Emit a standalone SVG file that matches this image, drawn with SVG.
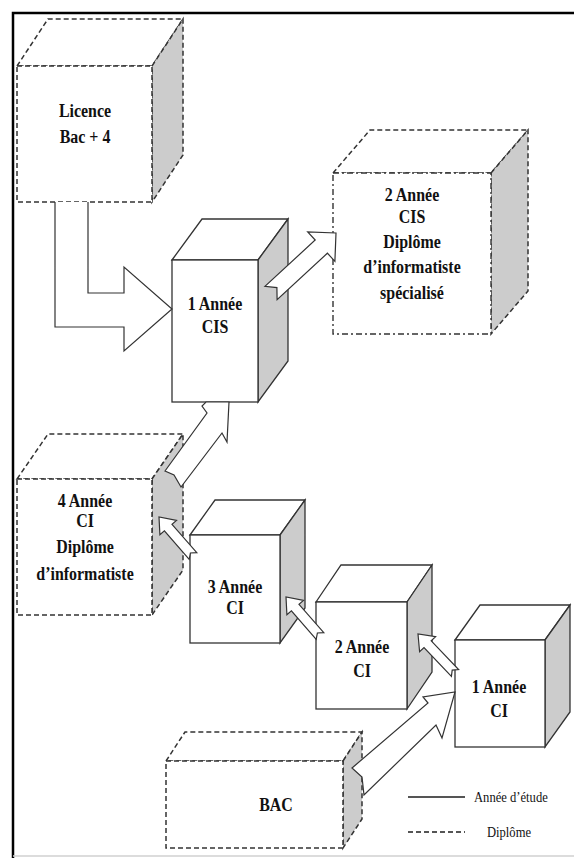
<svg xmlns="http://www.w3.org/2000/svg" width="574" height="859" viewBox="0 0 574 859">
<style>
.solid{fill:#fff;stroke:#333;stroke-width:1.3;stroke-linejoin:miter}
.solid-side{fill:#cccccc;stroke:#333;stroke-width:1.3}
.dash{fill:#fff;stroke:#333;stroke-width:1.5;stroke-dasharray:5,3}
.dash-side{fill:#cccccc;stroke:#333;stroke-width:1.5;stroke-dasharray:5,3}
.dashdot{fill:#fff;stroke:#333;stroke-width:1.4;stroke-dasharray:6,3,2,3}
.arrow{fill:#fff;stroke:#333;stroke-width:1.2;stroke-linejoin:miter}
.lbl{font-family:"Liberation Serif","Times New Roman",serif;font-weight:bold;font-size:19px;fill:#111;text-anchor:middle}
.leg{font-family:"Liberation Serif","Times New Roman",serif;font-size:15px;fill:#111}
</style>
<rect width="574" height="859" fill="#fff"/>
<path d="M13,858 V13 H574" fill="none" stroke="#000" stroke-width="2.5"/>
<line x1="13" y1="856" x2="574" y2="856" stroke="#d0d0d0" stroke-width="1.5"/>

<g id="licence">
<polygon class="dash" points="17,66 48,19 183,19 152,66"/>
<polygon class="dash-side" points="152,66 183,19 183,155 152,202"/>
<rect class="dash" x="17" y="66" width="135" height="136"/>
<text class="lbl" transform="translate(85,117) scale(0.84,1)"><tspan x="0" y="0">Licence</tspan><tspan x="0" y="26">Bac + 4</tspan></text>
</g>

<g id="cis2">
<polygon class="dash" points="333,173 370,130 528,130 491,173"/>
<polygon class="dash-side" points="491,173 528,130 528,291 491,334"/>
<rect class="dashdot" x="333" y="173" width="158" height="161"/>
<text class="lbl" transform="translate(412,201) scale(0.84,1)"><tspan x="0" y="0">2 Année</tspan><tspan x="0" y="22">CIS</tspan><tspan x="0" y="47">Diplôme</tspan><tspan x="0" y="72">d’informatiste</tspan><tspan x="0" y="98">spécialisé</tspan></text>
</g>

<g id="cis1">
<polygon class="solid" points="172,260 202,219 288,219 258,260"/>
<polygon class="solid-side" points="258,260 288,219 288,361 258,402"/>
<rect class="solid" x="172" y="260" width="86" height="142"/>
<text class="lbl" transform="translate(215,310) scale(0.84,1)"><tspan x="0" y="0">1 Année</tspan><tspan x="0" y="23">CIS</tspan></text>
</g>

<g id="ci4">
<polygon class="dash" points="17,479 48,434 183,434 152,479"/>
<polygon class="dash-side" points="152,479 183,434 183,570 152,615"/>
<rect class="dash" x="17" y="479" width="135" height="136"/>
<text class="lbl" transform="translate(85,507) scale(0.84,1)"><tspan x="0" y="0">4 Année</tspan><tspan x="0" y="20">CI</tspan><tspan x="0" y="46">Diplôme</tspan><tspan x="0" y="73">d’informatiste</tspan></text>
</g>

<g id="ci3">
<polygon class="solid" points="190,535 215,500 305,500 280,535"/>
<polygon class="solid-side" points="280,535 305,500 305,608 280,643"/>
<rect class="solid" x="190" y="535" width="90" height="108"/>
<text class="lbl" transform="translate(235,593) scale(0.84,1)"><tspan x="0" y="0">3 Année</tspan><tspan x="0" y="21">CI</tspan></text>
</g>

<g id="ci2">
<polygon class="solid" points="316,602 341,565 432,565 407,602"/>
<polygon class="solid-side" points="407,602 432,565 432,672 407,709"/>
<rect class="solid" x="316" y="602" width="91" height="107"/>
<text class="lbl" transform="translate(362,653) scale(0.84,1)"><tspan x="0" y="0">2 Année</tspan><tspan x="0" y="24">CI</tspan></text>
</g>

<g id="ci1">
<polygon class="solid" points="455,640 480,605 570,605 545,640"/>
<polygon class="solid-side" points="545,640 570,605 570,712 545,747"/>
<rect class="solid" x="455" y="640" width="90" height="107"/>
<text class="lbl" transform="translate(499,693) scale(0.84,1)"><tspan x="0" y="0">1 Année</tspan><tspan x="0" y="24">CI</tspan></text>
</g>

<g id="bac">
<polygon class="dash" points="166,761 185,732 362,732 343,761"/>
<polygon class="dash-side" points="343,761 362,732 362,819 343,848"/>
<rect class="dash" x="166" y="761" width="177" height="87"/>
<text class="lbl" transform="translate(276,811) scale(0.84,1)"><tspan x="0" y="0">BAC</tspan></text>
</g>

<g id="connectors">
<path class="arrow" d="M55,202 V327 H124 V351 L172,309 L124,267 V293 H88 V202"/>
<polygon class="arrow" points="264.9,286.4 315.2,240 307.7,231.9 336,233 334.9,261.3 327.4,253.2 277.1,299.6 276.9,287.6"/>
<polygon class="arrow" points="165,471 207,413 202,406 206,402 229,402 227,442 222,433 181,487 174,475"/>
<polygon class="arrow" points="189.2,559.3 164.4,530.9 159.9,534.8 159,517 176.5,520.4 172,524.3 196.8,552.7 190.4,553"/>
<polygon class="arrow" points="316.2,639.3 291.4,610.9 286.9,614.8 286,597 303.5,600.4 299,604.3 323.8,632.7 317.4,633"/>
<polygon class="arrow" points="451.4,676.4 424,647.6 419.6,651.8 418,634 435.6,636.6 431.2,640.8 458.6,669.6 452.2,670.1"/>
<polygon class="arrow" points="352,768 428,703 423,697 455,692 442,738 436,725 364,795 362,777"/>
</g>

<g id="legend">
<line x1="408" y1="797" x2="465" y2="797" stroke="#555" stroke-width="2"/>
<text class="leg" transform="translate(474,802) scale(0.84,1)">Année d’étude</text>
<line x1="408" y1="832" x2="465" y2="832" stroke="#555" stroke-width="2" stroke-dasharray="5,3"/>
<text class="leg" transform="translate(509,837) scale(0.84,1)" text-anchor="middle">Diplôme</text>
</g>
</svg>
